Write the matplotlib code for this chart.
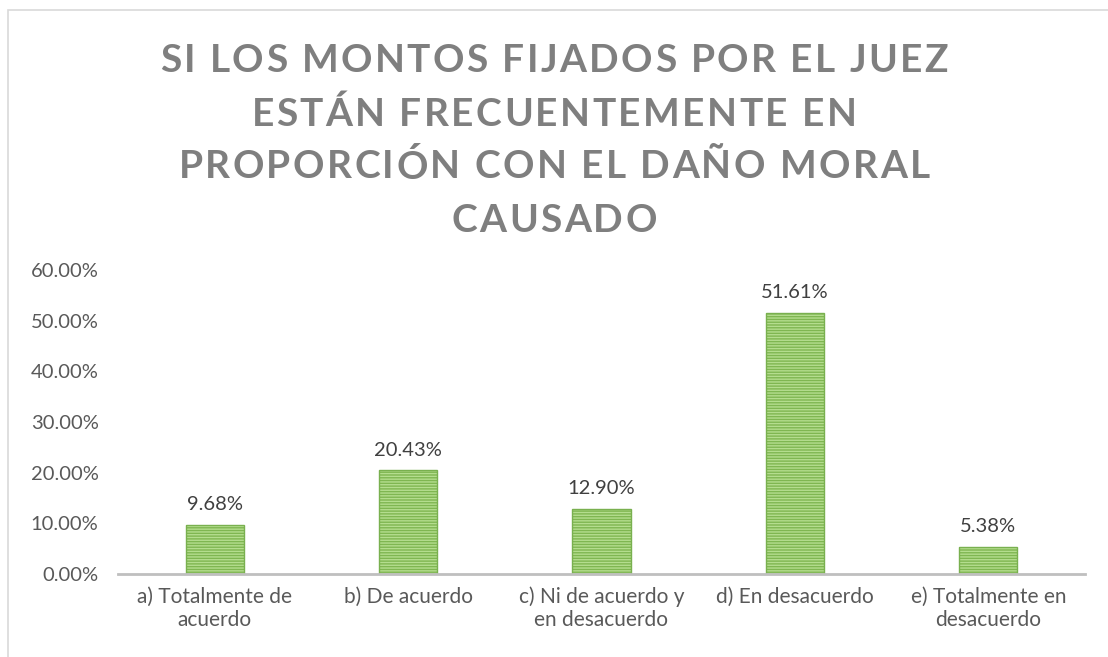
import numpy as np
import matplotlib
matplotlib.use('Agg')
import matplotlib.pyplot as plt
from matplotlib.patches import Rectangle

categories = ['a) Totalmente de\nacuerdo', 'b) De acuerdo', 'c) Ni de acuerdo y\nen desacuerdo',
              'd) En desacuerdo', 'e) Totalmente en\ndesacuerdo']
values = [9.68, 20.43, 12.90, 51.61, 5.38]
yticks = [0, 10, 20, 30, 40, 50, 60]
title_lines = ['SI LOS MONTOS FIJADOS POR EL JUEZ', 'ESTÁN FRECUENTEMENTE EN',
               'PROPORCIÓN CON EL DAÑO MORAL', 'CAUSADO']

plt.rcParams['font.family'] = ['Lato', 'DejaVu Sans']
plt.rcParams['hatch.linewidth'] = 1.0

W, H = 1108, 657
fig = plt.figure(figsize=(W / 100, H / 100), dpi=100)
fig.patch.set_facecolor('white')
# chart frame
fig.add_artist(Rectangle((8 / W, -0.01), 1.1, 1 - 10 / H + 0.01, transform=fig.transFigure,
                         fill=False, edgecolor='#d9d9d9', linewidth=1.2))

ax = fig.add_axes([118 / W, 1 - 574 / H, 967 / W, 304 / H])
x = np.arange(len(values))
bars = ax.bar(x, values, width=0.3, color='#7FB651', edgecolor='#B4DD8E', hatch='------', linewidth=0)
for b in bars:
    ax.add_patch(Rectangle((b.get_x(), 0), b.get_width(), b.get_height(), fill=False,
                           edgecolor='#79B04F', linewidth=1.0))
for xi, v in zip(x, values):
    ax.text(xi, v + 2.3, f'{v:.2f}%', ha='center', va='bottom', fontsize=14.5, color='#404040')

ax.set_xlim(-0.5, len(values) - 0.5)
ax.set_ylim(0, 60)
ax.set_yticks(yticks)
ax.set_yticklabels([f'{t:.2f}%' for t in yticks], fontsize=14.5, color='#595959')
ax.set_xticks(x)
ax.set_xticklabels(categories, fontsize=15, color='#595959', linespacing=1.2)
ax.tick_params(axis='y', length=0, pad=14)
ax.tick_params(axis='x', length=0, pad=9)
for s in ['top', 'right', 'left']:
    ax.spines[s].set_visible(False)
ax.spines['bottom'].set_color('#bfbfbf')
ax.spines['bottom'].set_linewidth(2)

# title with letter spacing, drawn character by character
renderer = fig.canvas.get_renderer()
tsize = 28
spacing = 2.4  # px between letters
line_y0, line_step = 58, 53


def text_width(s):
    t = fig.text(0, 0, s, fontsize=tsize, fontweight='bold')
    w = t.get_window_extent(renderer).width
    t.remove()
    return w


for i, line in enumerate(title_lines):
    prefix = [0.0] + [text_width(line[:k]) for k in range(1, len(line) + 1)]
    total = prefix[-1] + spacing * (len(line) - 1)
    x0 = W / 2 - total / 2
    yc = line_y0 + i * line_step
    for k, ch in enumerate(line):
        if ch == ' ':
            continue
        fig.text((x0 + prefix[k] + k * spacing) / W, 1 - yc / H, ch, fontsize=tsize,
                 fontweight='bold', color='#7f7f7f', ha='left', va='center_baseline')

fig.savefig('out.png', dpi=100)
